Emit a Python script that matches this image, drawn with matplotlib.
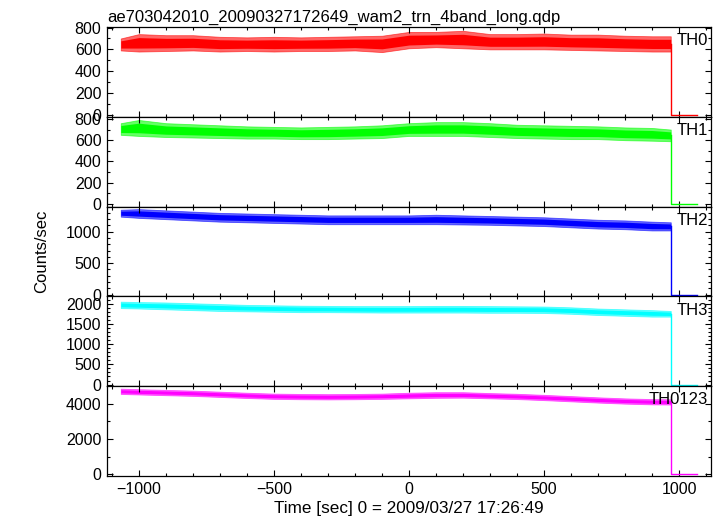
import numpy as np
import matplotlib
matplotlib.use("Agg")
import matplotlib.pyplot as plt
from matplotlib.ticker import MultipleLocator

plt.rcParams['font.family'] = ['Liberation Sans', 'DejaVu Sans']

title = "ae703042010_20090327172649_wam2_trn_4band_long.qdp"
xlabel = "Time [sec] 0 = 2009/03/27 17:26:49"
ylabel = "Counts/sec"

t = [-1067, -1000, -900, -800, -700, -600, -500, -400, -300, -200, -100,
     0, 100, 200, 300, 400, 500, 600, 700, 800, 900, 969]
# after the drop the rate is flat at zero
t_tail = [969, 1066]
v_tail = [0, 0]

names = ["TH0", "TH1", "TH2", "TH3", "TH0123"]
colors = ["#ff0000", "#00ff00", "#0000ff", "#00ffff", "#ff00ff"]

th0_lo = [590, 580, 585, 590, 580, 585, 580, 585, 585, 590, 575,
          610, 620, 610, 600, 600, 600, 595, 590, 585, 580, 580]
th0_hi = [700, 740, 730, 730, 715, 710, 715, 710, 715, 720, 725,
          760, 760, 770, 740, 740, 745, 735, 735, 725, 720, 720]

th1_lo = [650, 640, 630, 625, 620, 615, 615, 610, 610, 615, 620,
          640, 640, 640, 630, 620, 615, 610, 610, 600, 595, 590]
th1_hi = [760, 790, 760, 750, 740, 730, 725, 720, 725, 730, 740,
          760, 770, 770, 760, 745, 740, 735, 730, 720, 715, 700]

th2_lo = [1240, 1220, 1200, 1180, 1160, 1150, 1140, 1130, 1120, 1120, 1120,
          1120, 1120, 1115, 1110, 1100, 1090, 1070, 1050, 1040, 1020, 1020]
th2_hi = [1350, 1360, 1340, 1320, 1300, 1290, 1280, 1270, 1260, 1260, 1260,
          1260, 1270, 1260, 1250, 1240, 1230, 1210, 1190, 1180, 1160, 1150]

th3_lo = [1890, 1880, 1860, 1840, 1820, 1810, 1800, 1790, 1790, 1785, 1780,
          1780, 1780, 1780, 1775, 1775, 1770, 1750, 1720, 1700, 1680, 1680]
th3_hi = [2050, 2040, 2030, 2010, 1990, 1970, 1960, 1950, 1945, 1940, 1940,
          1940, 1945, 1945, 1940, 1935, 1930, 1910, 1880, 1860, 1840, 1820]

th0123_lo = [4550, 4520, 4480, 4440, 4380, 4320, 4270, 4250, 4240, 4250, 4270,
             4300, 4330, 4340, 4300, 4260, 4200, 4130, 4060, 4000, 3960, 3950]
th0123_hi = [4850, 4820, 4780, 4740, 4680, 4620, 4570, 4550, 4540, 4550, 4570,
             4620, 4650, 4650, 4600, 4560, 4500, 4430, 4360, 4300, 4260, 4250]

bands = [(th0_lo, th0_hi), (th1_lo, th1_hi), (th2_lo, th2_hi),
         (th3_lo, th3_hi), (th0123_lo, th0123_hi)]

ylims = [(-18, 805), (-25, 820), (-30, 1400), (-40, 2180), (-100, 4990)]
ymajor = [200, 200, 500, 500, 2000]
yminor = [100, 100, 100, 100, 1000]

fig = plt.figure(figsize=(7.17, 5.16), dpi=100)
left, right = 107 / 717, 711 / 717
top, bottom = 1 - 27 / 516, 1 - 476 / 516
h = (top - bottom) / 5

axes = []
for i in range(5):
    ax = fig.add_axes([left, top - (i + 1) * h, right - left, h])
    axes.append(ax)
    lo, hi = bands[i]
    c = colors[i]
    ax.fill_between(t, lo, hi, color=c, lw=0.6, alpha=0.6)
    mid_lo = [a + (b - a) * 0.2 for a, b in zip(lo, hi)]
    mid_hi = [a + (b - a) * 0.8 for a, b in zip(lo, hi)]
    ax.fill_between(t, mid_lo, mid_hi, color=c, lw=0)
    mid_end = (lo[-1] + hi[-1]) / 2
    ax.plot([t[-1]] + t_tail, [mid_end] + v_tail, color=c, lw=1)

    ax.set_xlim(-1118, 1118)
    ax.set_ylim(*ylims[i])
    ax.xaxis.set_major_locator(MultipleLocator(500))
    ax.xaxis.set_minor_locator(MultipleLocator(100))
    ax.yaxis.set_major_locator(MultipleLocator(ymajor[i]))
    ax.yaxis.set_minor_locator(MultipleLocator(yminor[i]))
    ax.tick_params(which='both', direction='in', top=True, right=True,
                   labelsize=11.5, width=0.8, pad=4)
    ax.tick_params(which='major', length=4.5)
    ax.tick_params(which='minor', length=2.2)
    for s in ax.spines.values():
        s.set_linewidth(0.9)
    if i < 4:
        ax.tick_params(labelbottom=False)
    ax.text(0.995, 0.93, names[i], transform=ax.transAxes, ha='right',
            va='top', fontsize=12)

axes[0].set_title(title, loc='left', fontsize=12, pad=4)
axes[-1].set_xlabel(xlabel, fontsize=12.3, labelpad=3)
fig.text(0.058, (top + bottom) / 2, ylabel, rotation=90, ha='center',
         va='center', fontsize=12)

fig.savefig("out.png", dpi=100)
